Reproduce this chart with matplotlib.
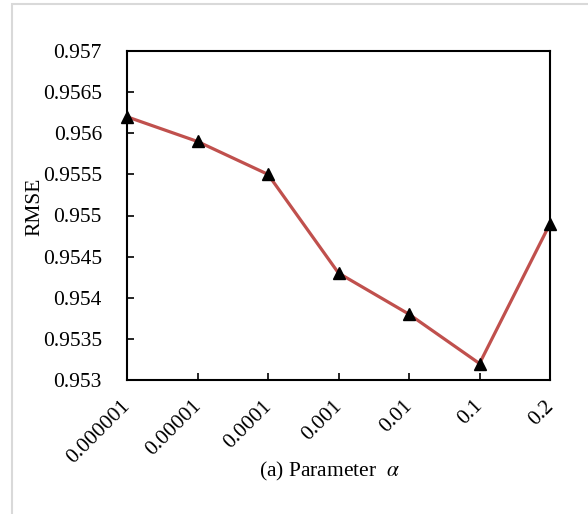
import matplotlib
matplotlib.use("Agg")
import matplotlib.pyplot as plt
import matplotlib.transforms as mtransforms
from matplotlib.patches import Rectangle

categories = ["0.000001", "0.00001", "0.0001", "0.001", "0.01", "0.1", "0.2"]
rmse = [0.9562, 0.9559, 0.9555, 0.9543, 0.9538, 0.9532, 0.9549]
yticks = [0.953, 0.9535, 0.954, 0.9545, 0.955, 0.9555, 0.956, 0.9565, 0.957]
ytick_labels = ["0.953", "0.9535", "0.954", "0.9545", "0.955", "0.9555", "0.956", "0.9565", "0.957"]

plt.rcParams['font.family'] = ['Liberation Serif', 'DejaVu Serif']
plt.rcParams['mathtext.fontset'] = 'stix'

W, H = 588, 514
FS = 15.5
fig = plt.figure(figsize=(W/100, H/100), dpi=100)
fig.patches.append(Rectangle((12/W, -0.1), 1.2, 1 - 4/H + 0.1, transform=fig.transFigure,
                             fill=False, edgecolor='#d9d9d9', linewidth=1.5))

ax = fig.add_axes([127/W, 1 - 380/H, (550-127)/W, (380-51)/H])
x = list(range(len(categories)))
ax.plot(x, rmse, color='#C0504D', linewidth=2.3, zorder=2)
ax.plot(x, rmse, linestyle='none', marker='^', markersize=9, color='black', zorder=3, clip_on=False)

ax.set_xlim(0, len(categories) - 1)
ax.set_ylim(0.953, 0.957)
ax.set_yticks(yticks)
ax.set_yticklabels(ytick_labels, fontsize=FS)
ax.set_xticks(x)
ax.set_xticklabels(categories, fontsize=FS, rotation=45, ha='right', rotation_mode='anchor')
ax.tick_params(direction='in', length=5, width=1.2)
ax.tick_params(axis='y', pad=18)
ax.tick_params(axis='x', pad=12)
offset = mtransforms.ScaledTranslation(-6/100, 0, fig.dpi_scale_trans)
for lbl in ax.get_xticklabels():
    lbl.set_transform(lbl.get_transform() + offset)
for s in ax.spines.values():
    s.set_linewidth(1.5)
    s.set_color('black')

fig.text(34.5/W, 1 - 207/H, "RMSE", fontsize=FS, rotation=90, ha='center', va='center')
fig.text(329/W, 1 - 471/H, r"(a) Parameter  $\alpha$", fontsize=FS, ha='center', va='center')

fig.savefig("out.png", dpi=100)
